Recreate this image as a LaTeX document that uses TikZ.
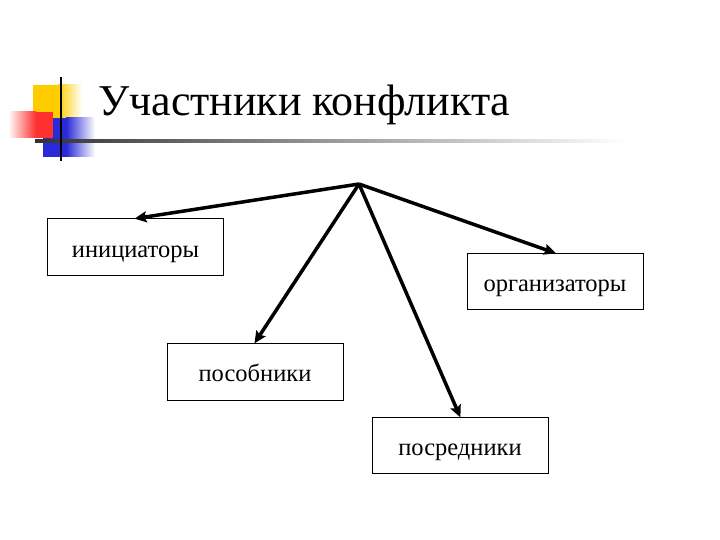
\documentclass[tikz,border=0pt]{standalone}
\usepackage{fontspec}
\setmainfont{Liberation Serif}
\usetikzlibrary{arrows.meta}
\definecolor{decoyellow}{HTML}{FFCC00}
\definecolor{decored}{HTML}{FF3030}
\definecolor{decoblue}{HTML}{2A2AD8}
\definecolor{rulegray}{HTML}{333333}
\tikzset{
  box/.style={draw=black, line width=1pt, minimum width=176pt, minimum height=56pt, inner sep=0pt, text height=20pt, text depth=0pt, font=\fontsize{24.5}{28}\selectfont},
  arr/.style={line width=3.5pt, -{Stealth[length=12pt,width=11pt,inset=2pt]}, shorten >=-1pt},
}
\begin{document}
\begin{tikzpicture}[x=1pt,y=-1pt]
\useasboundingbox (0,0) rectangle (720,540);
\fill[white] (0,0) rectangle (720,540);
% decoration
\fill[decoyellow] (33,85) rectangle (58,118);
\shade[left color=decoyellow, right color=white] (58,85) rectangle (82,118);
\fill[decoblue] (43,118) rectangle (66,157);
\shade[left color=decoblue, right color=white] (66,118) rectangle (95,157);
\shade[left color=white, right color=decored] (8,112) rectangle (36,138);
\fill[decored] (36,112) rectangle (53,138);
\shade[left color=rulegray, right color=white] (35,139.5) rectangle (627,142.5);
\draw[black, line width=2pt] (61,77) -- (61,161);
% title
\node[anchor=base west, inner sep=0pt, font=\fontsize{44}{50}\selectfont] (title) at (98,116) {Участники конфликта};
% boxes
\node[box] (ini) at (135.5,247) {инициаторы};
\node[box] (org) at (555,281.5) {организаторы};
\node[box, minimum height=57pt] (pos) at (255,371.5) {пособники};
\node[box] (psr) at (460,445) {посредники};
\coordinate (src) at (359,184);
\draw[arr] (src) -- (ini.north);
\draw[arr] (src) -- (org.north);
\draw[arr] (src) -- (pos.north);
\draw[arr] (src) -- (psr.north);
\end{tikzpicture}
\end{document}
